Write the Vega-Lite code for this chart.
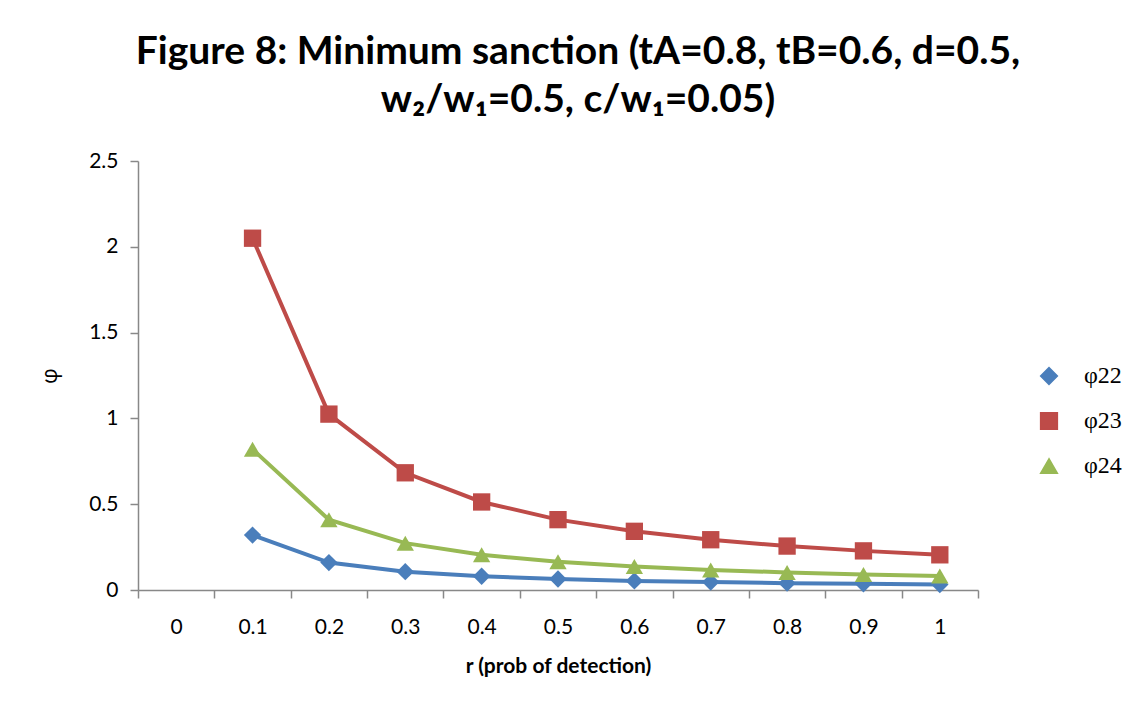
{
  "$schema": "https://vega.github.io/schema/vega-lite/v6.json",
  "autosize": "none",
  "width": 840,
  "height": 429,
  "padding": {"left": 138, "top": 161, "right": 158, "bottom": 123},
  "background": "white",
  "title": {
    "text": ["Figure 8: Minimum sanction (tA=0.8, tB=0.6, d=0.5,", "w₂/w₁=0.5, c/w₁=0.05)"],
    "font": "Lato",
    "fontSize": 39,
    "fontWeight": "bold",
    "color": "black",
    "anchor": "middle",
    "lineHeight": 48,
    "offset": 30,
    "dx": 20
  },
  "data": {
    "values": [
      {"r": "0.1", "s": "φ22", "v": 0.32},
      {"r": "0.2", "s": "φ22", "v": 0.16},
      {"r": "0.3", "s": "φ22", "v": 0.107},
      {"r": "0.4", "s": "φ22", "v": 0.08},
      {"r": "0.5", "s": "φ22", "v": 0.064},
      {"r": "0.6", "s": "φ22", "v": 0.053},
      {"r": "0.7", "s": "φ22", "v": 0.046},
      {"r": "0.8", "s": "φ22", "v": 0.04},
      {"r": "0.9", "s": "φ22", "v": 0.036},
      {"r": "1", "s": "φ22", "v": 0.032},
      {"r": "0.1", "s": "φ23", "v": 2.05},
      {"r": "0.2", "s": "φ23", "v": 1.025},
      {"r": "0.3", "s": "φ23", "v": 0.683},
      {"r": "0.4", "s": "φ23", "v": 0.513},
      {"r": "0.5", "s": "φ23", "v": 0.41},
      {"r": "0.6", "s": "φ23", "v": 0.342},
      {"r": "0.7", "s": "φ23", "v": 0.293},
      {"r": "0.8", "s": "φ23", "v": 0.256},
      {"r": "0.9", "s": "φ23", "v": 0.228},
      {"r": "1", "s": "φ23", "v": 0.205},
      {"r": "0.1", "s": "φ24", "v": 0.82},
      {"r": "0.2", "s": "φ24", "v": 0.41},
      {"r": "0.3", "s": "φ24", "v": 0.273},
      {"r": "0.4", "s": "φ24", "v": 0.205},
      {"r": "0.5", "s": "φ24", "v": 0.164},
      {"r": "0.6", "s": "φ24", "v": 0.137},
      {"r": "0.7", "s": "φ24", "v": 0.117},
      {"r": "0.8", "s": "φ24", "v": 0.1025},
      {"r": "0.9", "s": "φ24", "v": 0.091},
      {"r": "1", "s": "φ24", "v": 0.082}
    ]
  },
  "encoding": {
    "x": {
      "field": "r",
      "type": "ordinal",
      "sort": null,
      "scale": {"domain": ["0", "0.1", "0.2", "0.3", "0.4", "0.5", "0.6", "0.7", "0.8", "0.9", "1"], "type": "band", "paddingInner": 0, "paddingOuter": 0},
      "axis": {
        "title": "r (prob of detection)",
        "titleFont": "Lato",
        "titleFontSize": 21,
        "titleFontWeight": "bold",
        "titleColor": "black",
        "titlePadding": 18,
        "labelAngle": 0,
        "labelFont": "Lato",
        "labelFontSize": 21,
        "labelColor": "black",
        "labelPadding": 18,
        "tickBand": "extent",
        "tickSize": 8,
        "tickColor": "#888888",
        "domainColor": "#888888",
        "domainWidth": 1.5,
        "tickWidth": 1.5
      }
    },
    "y": {
      "field": "v",
      "type": "quantitative",
      "scale": {"domain": [0, 2.5], "nice": false},
      "axis": {
        "values": [0, 0.5, 1, 1.5, 2, 2.5],
        "format": "~g",
        "grid": false,
        "title": "φ",
        "titleFont": "Open Sans",
        "titleFontSize": 22,
        "titleFontWeight": "normal",
        "titleColor": "black",
        "titlePadding": 27,
        "labelFont": "Lato",
        "labelFontSize": 21,
        "labelColor": "black",
        "labelPadding": 12,
        "tickSize": 8,
        "tickColor": "#888888",
        "domainColor": "#888888",
        "domainWidth": 1.5,
        "tickWidth": 1.5
      }
    },
    "color": {
      "field": "s",
      "type": "nominal",
      "scale": {"domain": ["φ22", "φ23", "φ24"], "range": ["#4A7EBB", "#BE4B48", "#98B954"]},
      "legend": {
        "title": null,
        "orient": "none",
        "legendX": 899,
        "legendY": 203,
        "padding": 0,
        "labelFont": "Liberation Serif",
        "labelFontSize": 24,
        "labelColor": "black",
        "labelOffset": 23,
        "symbolSize": 280,
        "rowPadding": 21
      }
    }
  },
  "layer": [
    {
      "mark": {"type": "line", "strokeWidth": 4},
      "encoding": {}
    },
    {
      "mark": {"type": "point", "filled": true, "opacity": 1},
      "encoding": {
        "shape": {
          "field": "s",
          "type": "nominal",
          "scale": {"domain": ["φ22", "φ23", "φ24"], "range": ["diamond", "square", "triangle-up"]},
          "legend": null
        },
        "size": {"value": 300}
      }
    }
  ],
  "config": {
    "view": {"stroke": null}
  }
}
